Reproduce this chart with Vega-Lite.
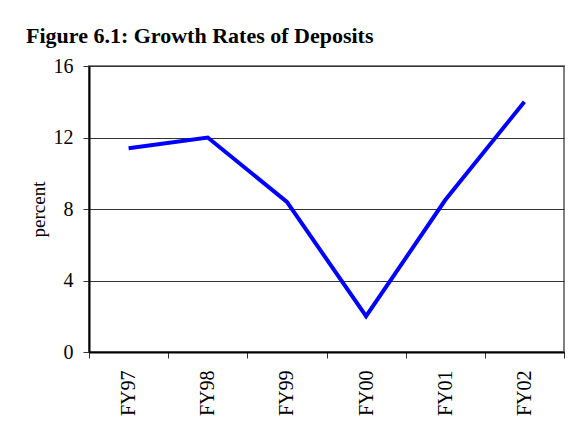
{
  "$schema": "https://vega.github.io/schema/vega-lite/v6.json",
  "autosize": "none",
  "width": 475,
  "height": 286,
  "padding": {"top": 66, "left": 89, "right": 14, "bottom": 73},
  "background": "white",
  "title": {
    "text": "Figure 6.1: Growth Rates of Deposits",
    "anchor": "start",
    "frame": "group",
    "dx": -63,
    "dy": 22,
    "offset": 13,
    "baseline": "alphabetic",
    "font": "Liberation Serif",
    "fontSize": 22,
    "fontWeight": "bold",
    "color": "black"
  },
  "data": {
    "values": [
      {"year": "FY97", "growth": 11.4},
      {"year": "FY98", "growth": 12.0},
      {"year": "FY99", "growth": 8.4},
      {"year": "FY00", "growth": 2.0},
      {"year": "FY01", "growth": 8.5},
      {"year": "FY02", "growth": 14.0}
    ]
  },
  "mark": {"type": "line", "color": "#0000FF", "strokeWidth": 4, "strokeJoin": "miter"},
  "encoding": {
    "x": {
      "field": "year",
      "type": "nominal",
      "sort": null,
      "scale": {"type": "band", "paddingInner": 0, "paddingOuter": 0},
      "axis": {
        "title": null,
        "tickBand": "extent",
        "labelAngle": -90,
        "labelAlign": "right",
        "labelBaseline": "middle",
        "labelPadding": 12,
        "tickSize": 6,
        "tickColor": "#333",
        "domainColor": "black",
        "domainWidth": 2,
        "labelFont": "Liberation Serif",
        "labelFontSize": 20,
        "labelColor": "black",
        "grid": false
      }
    },
    "y": {
      "field": "growth",
      "type": "quantitative",
      "scale": {"domain": [0, 16], "nice": false},
      "axis": {
        "title": "percent",
        "values": [0, 4, 8, 12, 16],
        "tickSize": 6,
        "tickColor": "#333",
        "domainColor": "black",
        "domainWidth": 2,
        "grid": true,
        "gridColor": "#333",
        "gridWidth": 1,
        "gridOpacity": 1,
        "labelFont": "Liberation Serif",
        "labelFontSize": 20,
        "labelColor": "black",
        "labelPadding": 10,
        "titleFont": "Liberation Serif",
        "titleFontSize": 19,
        "titleFontWeight": "normal",
        "titleColor": "black",
        "titlePadding": 5
      }
    }
  },
  "config": {
    "view": {"stroke": "#808080", "strokeWidth": 2}
  }
}
